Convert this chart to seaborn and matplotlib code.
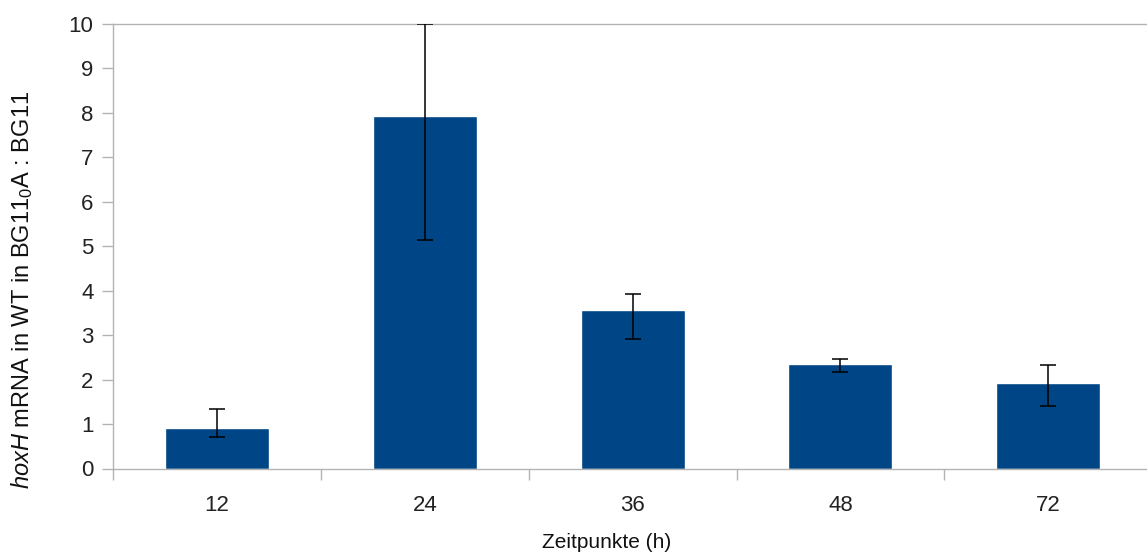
import matplotlib
matplotlib.use("Agg")
import matplotlib.pyplot as plt
import seaborn as sns
import numpy as np
import pandas as pd

times = ["12", "24", "36", "48", "72"]
means = [0.90, 7.93, 3.56, 2.35, 1.93]
err_low = [0.20, 2.78, 0.65, 0.18, 0.53]
err_high = [0.44, 2.07, 0.37, 0.12, 0.39]

sns.set_theme(style="white")
plt.rcParams['font.family'] = ['Liberation Sans', 'DejaVu Sans']
plt.rcParams['mathtext.fontset'] = 'custom'
plt.rcParams['mathtext.rm'] = 'Liberation Sans'
plt.rcParams['mathtext.it'] = 'Liberation Sans:italic'

W, H = 1147, 554
fig = plt.figure(figsize=(W / 100, H / 100), dpi=100)
left, right, top, bottom = 113, 1147, 24, 468.5
ax = fig.add_axes([left / W, 1 - bottom / H, (right - left) / W, (bottom - top) / H])

df = pd.DataFrame({"time": times, "mean": means})
sns.barplot(data=df, x="time", y="mean", color="#004586", saturation=1,
            width=0.5, errorbar=None, ax=ax, zorder=2)
ax.errorbar(np.arange(len(times)), means, yerr=[err_low, err_high], fmt="none",
            ecolor="black", elinewidth=1.1, capsize=6, capthick=1.1, zorder=3)

ax.set_xlim(-0.5, 4.475)
ax.set_ylim(0, 10)
ax.set_yticks(range(0, 11))
ax.set_xlabel("")
ax.set_ylabel("")

spine_color = "#b3b3b3"
for s in ["left", "bottom", "top"]:
    ax.spines[s].set_color(spine_color)
    ax.spines[s].set_linewidth(1.0)
ax.spines["right"].set_visible(False)

ax.tick_params(axis="y", which="major", length=8, width=1, color=spine_color,
               pad=6, labelsize=16, labelcolor="#222222", left=True)
ax.tick_params(axis="x", which="major", length=0, pad=19, labelsize=16,
               labelcolor="#222222")
ax.set_xticks(np.arange(-0.5, 4.5, 1.0), minor=True)
ax.tick_params(axis="x", which="minor", length=8, width=1, color=spine_color,
               bottom=True)

fig.text(22 / W, 1 - 290 / H, r"$\it{hoxH}$ mRNA in WT in BG11$_0$A : BG11",
         rotation=90, ha="center", va="center", fontsize=17, color="#111111")
fig.text(607 / W, 1 - 543 / H, "Zeitpunkte (h)", ha="center", va="center",
         fontsize=15, color="#111111")

fig.savefig("out.png", dpi=100)
